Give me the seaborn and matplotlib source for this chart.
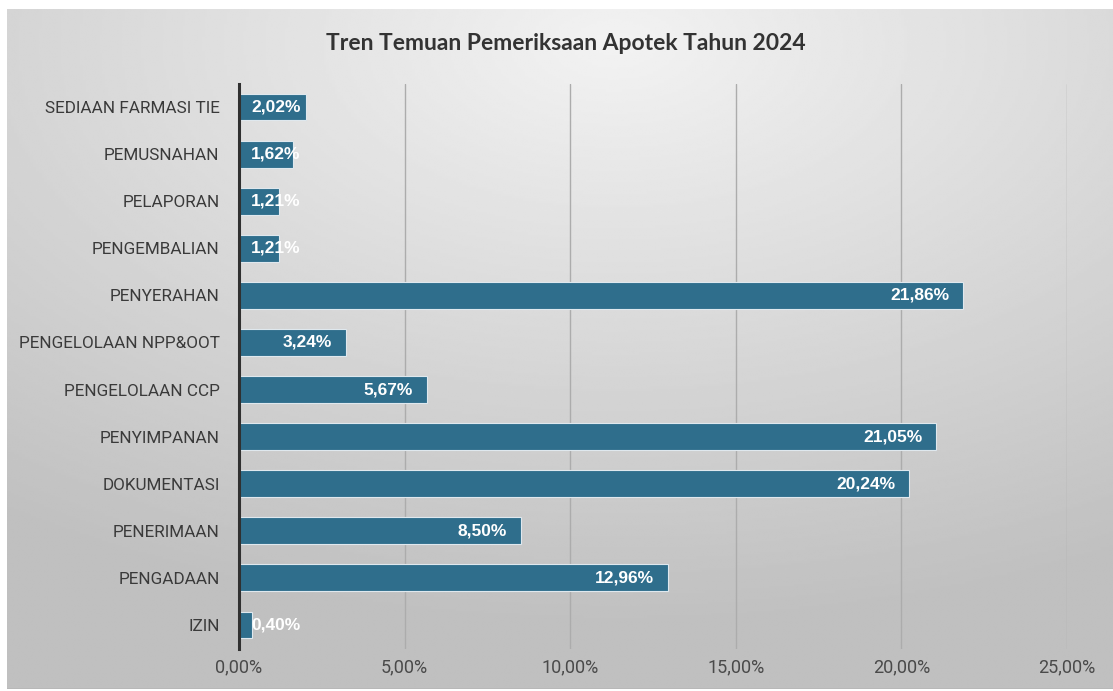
import numpy as np
import pandas as pd
import matplotlib.pyplot as plt
import seaborn as sns
from matplotlib.ticker import FuncFormatter

# Data
categories = ["SEDIAAN FARMASI TIE", "PEMUSNAHAN", "PELAPORAN", "PENGEMBALIAN",
              "PENYERAHAN", "PENGELOLAAN NPP&OOT", "PENGELOLAAN CCP", "PENYIMPANAN",
              "DOKUMENTASI", "PENERIMAAN", "PENGADAAN", "IZIN"]
values = [2.02, 1.62, 1.21, 1.21, 21.86, 3.24, 5.67, 21.05, 20.24, 8.50, 12.96, 0.40]
x_ticks = [0, 5, 10, 15, 20, 25]

BAR_COLOR = "#2f6e8c"
W, H = 1113, 691

df = pd.DataFrame({"Kategori": categories, "Persen": values})

sns.set_theme(style="white")
plt.rcParams['font.family'] = ['Roboto', 'DejaVu Sans']

fig = plt.figure(figsize=(W / 100, H / 100), dpi=100)
fig.patch.set_facecolor("white")

# Gradient background panel
bg = fig.add_axes([7 / W, 1 - 689 / H, 1 - 7 / W, (689 - 9) / H])
gx, gy = np.meshgrid(np.linspace(0, 1, 400), np.linspace(0, 1, 300))
dist = np.sqrt(((gx - 0.55) * 1.0) ** 2 + ((gy - 0.05) * 1.1) ** 2)
shade = 0.95 - 0.2 * np.clip(dist / 0.95, 0, 1)
bg.imshow(shade, cmap="gray", vmin=0, vmax=1, aspect="auto",
          extent=[0, 1, 1, 0], interpolation="bilinear")
bg.axhline(1, color="#b8b8b8", lw=2)
bg.set_xlim(0, 1)
bg.set_ylim(1, 0)
bg.axis("off")

# Main axes
left, right = 239 / W, 1067 / W
top, bottom = 83.5 / H, 648.5 / H
ax = fig.add_axes([left, 1 - bottom, right - left, bottom - top])
ax.patch.set_alpha(0)

sns.barplot(data=df, x="Persen", y="Kategori", color=BAR_COLOR, width=0.57,
            edgecolor="#dfe8ee", linewidth=0.8, saturation=1, ax=ax, zorder=3)

ax.set_xlim(0, 25)
ax.set_xticks(x_ticks)
ax.xaxis.set_major_formatter(FuncFormatter(lambda v, p: f"{v:.2f}%".replace(".", ",")))
ax.grid(axis="x", color="#acacac", lw=1.0, zorder=0)
ax.grid(axis="y", visible=False)
for s in ["top", "right", "bottom"]:
    ax.spines[s].set_visible(False)
ax.spines["left"].set_color("#303030")
ax.spines["left"].set_linewidth(2.2)
ax.spines["left"].set_zorder(4)
ax.tick_params(axis="x", length=0, pad=7, labelsize=13, labelcolor="#4a4a4a")
ax.tick_params(axis="y", length=0, pad=14, labelsize=12.3, labelcolor="#3a3a3a")
ax.set_xlabel("")
ax.set_ylabel("")

# Data labels
for i, v in enumerate(values):
    txt = f"{v:.2f}%".replace(".", ",")
    if v < 2.5:
        ax.text(min(v, 0.36), i, txt, ha="left", va="center", color="white",
                fontsize=12.5, fontweight="bold", zorder=5,
                family=["Liberation Sans", "DejaVu Sans"])
    else:
        ax.text(v - 0.42, i, txt, ha="right", va="center", color="white",
                fontsize=12.5, fontweight="bold", zorder=5,
                family=["Liberation Sans", "DejaVu Sans"])

fig.text(0.508, 1 - 43 / H, "Tren Temuan Pemeriksaan Apotek Tahun 2024",
         ha="center", va="center", fontsize=16.5, fontweight="bold", color="#333333",
         family=["Lato", "DejaVu Sans"])

fig.savefig("out.png", dpi=100)
